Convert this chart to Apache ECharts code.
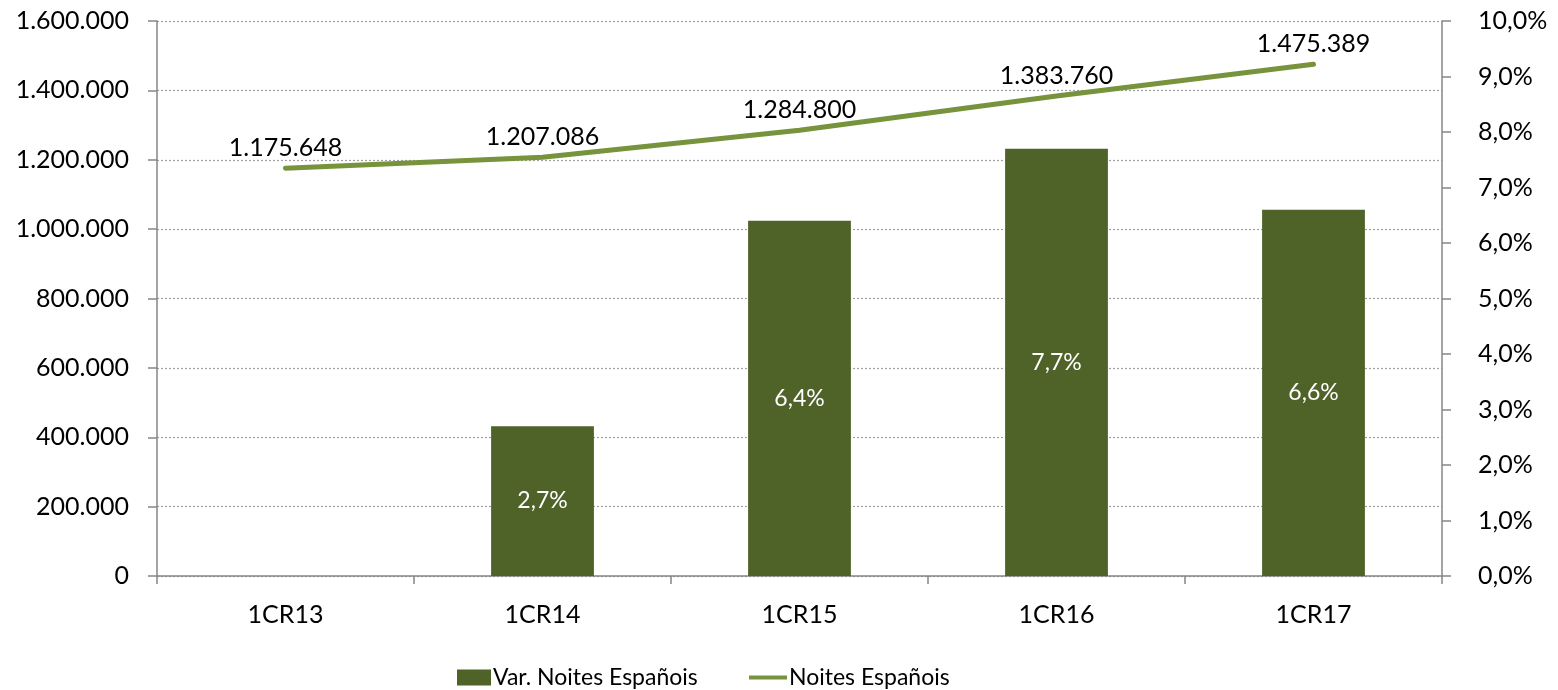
<!DOCTYPE html>
<html><head><meta charset="utf-8">
<script src="https://cdn.jsdelivr.net/npm/echarts@6/dist/echarts.min.js"></script>
<style>html,body{margin:0;padding:0;background:#fff}#c{width:1558px;height:690px}</style>
</head><body><div id="c"></div>
<script>
const categories = ['1CR13','1CR14','1CR15','1CR16','1CR17'];
const varNoites = [null, 2.7, 6.4, 7.7, 6.6];
const noites = [1175648, 1207086, 1284800, 1383760, 1475389];
const leftTicks = [0, 1600000, 200000];
const rightTicks = [0, 10, 1];

const fmtThousands = v => String(Math.round(v)).replace(/\B(?=(\d{3})+(?!\d))/g, '.');
const fmtPct = v => v.toFixed(1).replace('.', ',') + '%';
const FONT = 'Lato';
const legendText = {fontFamily: FONT, fontSize: 23, color: '#000', padding: [0,0,0,-3]};

const chart = echarts.init(document.getElementById('c'), null, {renderer: 'canvas'});
chart.setOption({
  animation: false,
  textStyle: {fontFamily: FONT},
  grid: {left: 157, right: 116, top: 21, bottom: 114, containLabel: false},
  legend: [
    {
      top: 661, left: 452, itemWidth: 34, itemHeight: 16, textStyle: legendText,
      data: [{name: 'Var. Noites Españois', icon: 'rect'}]
    },
    {
      top: 661, left: 744, itemWidth: 38, itemHeight: 16, textStyle: legendText,
      data: [{name: 'Noites Españois', icon: 'path://M0,0 L10,0 L10,1 L0,1 Z', itemStyle: {color: '#77933C'}}]
    }
  ],
  xAxis: {
    type: 'category', data: categories,
    axisLine: {lineStyle: {color: '#868686', width: 1.5}},
    axisTick: {show: true, length: 8, lineStyle: {color: '#868686', width: 1.5}},
    axisLabel: {color: '#000', fontSize: 25, margin: 26, fontFamily: FONT}
  },
  yAxis: [
    {
      type: 'value', min: leftTicks[0], max: leftTicks[1], interval: leftTicks[2],
      axisLine: {show: true, lineStyle: {color: '#868686', width: 1.5}},
      axisTick: {show: true, length: 9, lineStyle: {color: '#868686', width: 1.5}},
      axisLabel: {color: '#000', fontSize: 25, margin: 28, formatter: fmtThousands, fontFamily: FONT},
      splitLine: {show: true, lineStyle: {color: '#A0A0A0', type: [2, 2], width: 1.2}}
    },
    {
      type: 'value', min: rightTicks[0], max: rightTicks[1], interval: rightTicks[2],
      position: 'right',
      axisLine: {show: true, lineStyle: {color: '#868686', width: 1.5}},
      axisTick: {show: true, length: 9, lineStyle: {color: '#868686', width: 1.5}},
      axisLabel: {color: '#000', fontSize: 25, margin: 36, formatter: fmtPct, fontFamily: FONT},
      splitLine: {show: false}
    }
  ],
  series: [
    {
      name: 'Var. Noites Españois', type: 'bar', yAxisIndex: 1, data: varNoites,
      barWidth: '40%',
      itemStyle: {color: '#4F6228'},
      label: {show: true, position: 'inside', color: '#fff', fontSize: 23, fontFamily: FONT,
        formatter: p => fmtPct(p.value)}
    },
    {
      name: 'Noites Españois', type: 'line', yAxisIndex: 0, data: noites,
      showSymbol: true, symbol: 'circle', symbolSize: 0.1,
      lineStyle: {color: '#77933C', width: 5, cap: 'round'},
      itemStyle: {color: '#77933C'},
      label: {show: true, position: 'top', distance: 8, color: '#000', fontSize: 25, fontFamily: FONT,
        formatter: p => fmtThousands(p.value)}
    }
  ]
});
</script></body></html>
